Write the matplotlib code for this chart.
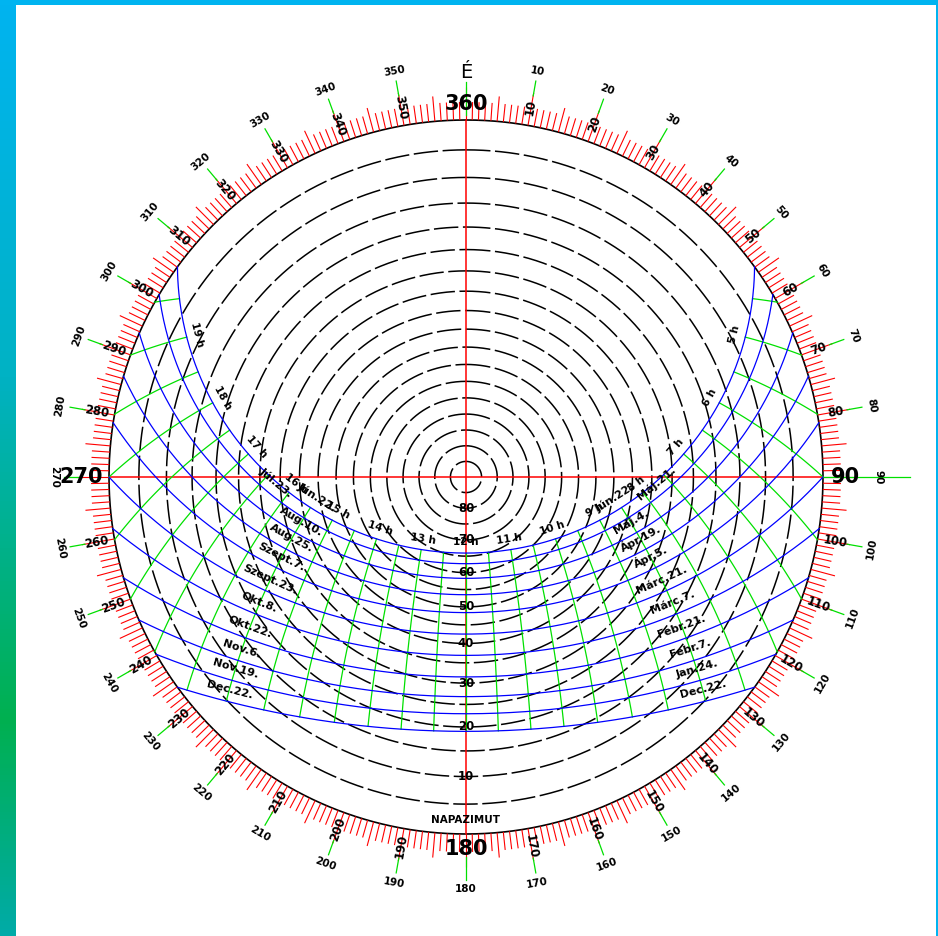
"""
Napút diagram (sztereografikus vetület), Budapest környéke, ~47.5° É.
Pixel koordinátákban rajzolunk: a tengely 1 egysége = 1 px a kimeneten.
"""
import matplotlib
matplotlib.use("Agg")
import matplotlib.pyplot as plt
import numpy as np
from matplotlib.collections import LineCollection
from matplotlib.colors import LinearSegmentedColormap

plt.rcParams["font.family"] = ["DejaVu Sans"]

W, H = 938, 936
CX, CY, R = 466, 477, 357          # középpont és a horizont sugara (px)

LAT = 47.5

# dátumgörbék: deklináció (fok), délelőtti és délutáni felirat
DECL = [23.44, 20.2, 15.8, 11.0, 5.9, 0.0, -5.6, -11.0, -15.7, -19.6, -23.44]
AM_DATES = ["Jún.22.", "Máj.21.", "Máj.4.", "Ápr.19.", "Ápr.5.", "Márc.21.",
            "Márc.7.", "Febr.21.", "Febr.7.", "Jan.24.", "Dec.22."]
PM_DATES = ["Jún.22.", "Júl.23.", "Aug.10.", "Aug.25.", "Szept.7.", "Szept.23.",
            "Okt.8.", "Okt.22.", "Nov.6.", "Nov.19.", "Dec.22."]
AM_LABEL_HOUR = [8.5, 7.7, 8.5, 8.5, 8.5, 8.5, 8.5, 8.5, 8.5, 8.5, 8.5]

# óravonalak (valódi napidő) és a feliratozott órák
HOUR_LINES = [4.5, 5, 5.5, 6, 6.5, 7, 7.5, 8, 8.5, 9, 9.5, 10, 10.5, 11, 11.5, 12,
              12.5, 13, 13.5, 14, 14.5, 15, 15.5, 16, 16.5, 17, 17.5, 18, 18.5, 19, 19.5]
HOUR_LABELS = [5, 6, 7, 8, 9, 10, 11, 12, 13, 14, 15, 16, 17, 18, 19]

# magassági körök és feliratok
ALT_CIRCLES = [5, 10, 15, 20, 25, 30, 35, 40, 45, 50, 55, 60, 65, 70, 75, 80, 85]
ALT_LABELS = [10, 20, 30, 40, 50, 60, 70, 80]

RED = "#ff0000"
GREEN = "#00e000"
BLUE = "#0000ff"


def proj(alt, az):
    """magasság/azimut (fok) -> pixel (x, y lefelé)"""
    r = R * np.tan(np.radians(90 - np.asarray(alt)) / 2)
    a = np.radians(az)
    return CX + r * np.sin(a), CY - r * np.cos(a)


def sun(decl, hang):
    """deklináció, óraszög (fok) -> magasság, azimut"""
    p, d, h = np.radians(LAT), np.radians(decl), np.radians(hang)
    s = np.sin(p) * np.sin(d) + np.cos(p) * np.cos(d) * np.cos(h)
    alt = np.degrees(np.arcsin(np.clip(s, -1, 1)))
    xe = -np.cos(d) * np.sin(h)
    yn = np.sin(d) * np.cos(p) - np.cos(d) * np.cos(h) * np.sin(p)
    az = np.degrees(np.arctan2(xe, yn)) % 360
    return alt, az


def curve_label(ax, decl, hour, text, off, size):
    hang = 15 * (hour - 12)
    x0, y0 = proj(*sun(decl, hang - 0.5))
    x1, y1 = proj(*sun(decl, hang + 0.5))
    x, y = proj(*sun(decl, hang))
    tx, ty = x1 - x0, y1 - y0
    n = np.hypot(tx, ty)
    nx, ny = -ty / n, tx / n
    if nx * (CX - x) + ny * (CY - y) < 0:
        nx, ny = -nx, -ny
    rot = np.degrees(np.arctan2(-ty, tx))
    if rot > 90:
        rot -= 180
    elif rot <= -90:
        rot += 180
    ax.text(x + nx * off, y + ny * off, text, fontsize=size, fontweight="bold",
            rotation=rot, rotation_mode="anchor", ha="center", va="center", zorder=6)


fig = plt.figure(figsize=(W / 100, H / 100), dpi=100)
ax = fig.add_axes([0, 0, 1, 1])
ax.set_xlim(0, W)
ax.set_ylim(H, 0)
ax.axis("off")

# keret: bal oldali színátmenetes sáv, felső és jobb vékony csík
cmap = LinearSegmentedColormap.from_list(
    "edge", [(0, "#00b4f0"), (0.4, "#00b2c4"), (0.77, "#00b050"), (1, "#00aba8")])
ax.imshow(np.linspace(0, 1, 256).reshape(-1, 1), cmap=cmap, aspect="auto",
          extent=[0, 16, H, 0], zorder=0)
ax.add_patch(plt.Rectangle((0, 0), W, 5, color="#00b4f0", lw=0))
ax.add_patch(plt.Rectangle((W - 2, 0), 2, H, color="#00b4f0", lw=0))

# magassági körök (szaggatott) és a horizont
t = np.linspace(0, 360, 721)
for a in ALT_CIRCLES:
    x, y = proj(np.full_like(t, a), t)
    ax.plot(x, y, color="black", lw=1.1, dashes=(16, 3), zorder=2)
x, y = proj(np.zeros_like(t), t)
ax.plot(x, y, color="black", lw=1.2, zorder=2)

# fokbeosztás a horizonton kívül
segs = []
for az in range(360):
    L = 33 if az % 10 == 0 else (25 if az % 5 == 0 else 18)
    a = np.radians(az)
    segs.append([(CX + R * np.sin(a), CY - R * np.cos(a)),
                 (CX + (R + L) * np.sin(a), CY - (R + L) * np.cos(a))])
ax.add_collection(LineCollection(segs, colors=RED, linewidths=0.8, zorder=2))

# tengelykereszt
ax.plot([CX - R, CX + R], [CY, CY], color=RED, lw=1.1, zorder=3)
ax.plot([CX, CX], [CY - R, CY + R], color=RED, lw=1.1, zorder=3)

# zöld küllők és feliratok 10 fokonként
for az in range(0, 360, 10):
    a = np.radians(az)
    r0, r1 = 387, 402
    if az == 0:
        r0, r1 = 362, 395
    elif az == 90:
        r0, r1 = R, 444
    elif az == 180:
        r0, r1 = 380, 403
    ax.plot([CX + r0 * np.sin(a), CX + r1 * np.sin(a)],
            [CY - r0 * np.cos(a), CY - r1 * np.cos(a)], color=GREEN, lw=0.9, zorder=3)

    # belső (sugárirányú) felirat
    if az % 90:
        rot = 90 - az if az < 180 else 270 - az
        ax.text(CX + 375 * np.sin(a), CY - 375 * np.cos(a), str(az), fontsize=8.5,
                fontweight="bold", rotation=rot, rotation_mode="anchor",
                ha="center", va="center", zorder=5)
    # külső (érintőirányú) felirat
    rot = -az if (az <= 90 or az > 270) else 180 - az
    txt = "É" if az == 0 else str(az)
    rr = 405 if az == 0 else 412
    ax.text(CX + rr * np.sin(a), CY - rr * np.cos(a), txt,
            fontsize=14 if az == 0 else 7.5, fontweight="normal" if az == 0 else "bold",
            rotation=0 if az == 0 else rot, rotation_mode="anchor",
            ha="center", va="center", zorder=5)

# nagy égtáj-feliratok
ax.text(CX, CY - R - 6, "360", fontsize=15, fontweight="bold", ha="center", va="bottom", zorder=5)
ax.text(CX + R + 8, CY, "90", fontsize=15, fontweight="bold", ha="left", va="center", zorder=5)
ax.text(CX, CY + R + 5, "180", fontsize=15, fontweight="bold", ha="center", va="top", zorder=5)
ax.text(CX - R - 6, CY, "270", fontsize=15, fontweight="bold", ha="right", va="center", zorder=5)

# óravonalak (zöld)
for h in HOUR_LINES:
    hang = 15 * (h - 12)
    d0 = np.degrees(np.arctan(-np.cos(np.radians(hang)) / np.tan(np.radians(LAT))))
    d = np.linspace(max(DECL[-1], d0), DECL[0], 120)
    x, y = proj(*sun(d, np.full_like(d, hang)))
    ax.plot(x, y, color=GREEN, lw=0.9, zorder=3)

# dátumgörbék (kék)
for d in DECL:
    h0 = np.degrees(np.arccos(-np.tan(np.radians(LAT)) * np.tan(np.radians(d))))
    hh = np.linspace(-h0, h0, 400)
    x, y = proj(*sun(np.full_like(hh, d), hh))
    ax.plot(x, y, color=BLUE, lw=0.9, zorder=4)

# dátum feliratok
for d, am, pm, h in zip(DECL, AM_DATES, PM_DATES, AM_LABEL_HOUR):
    curve_label(ax, d, h, am, 12, 8)
    curve_label(ax, d, 24 - h, pm, 12, 8)

# óra feliratok a júniusi görbén
for h in HOUR_LABELS:
    curve_label(ax, DECL[0], h, f"{h} h", 11, 7.5)

# magassági feliratok a függőleges tengelyen
for a in ALT_LABELS:
    x, y = proj(a, 180)
    ax.text(x, y, str(a), fontsize=8.5, fontweight="bold", ha="center",
            va="center", zorder=6)

ax.text(CX, 820, "NAPAZIMUT", fontsize=7.5, fontweight="bold", ha="center",
        va="center", zorder=6)

fig.savefig("out.png", dpi=100)
